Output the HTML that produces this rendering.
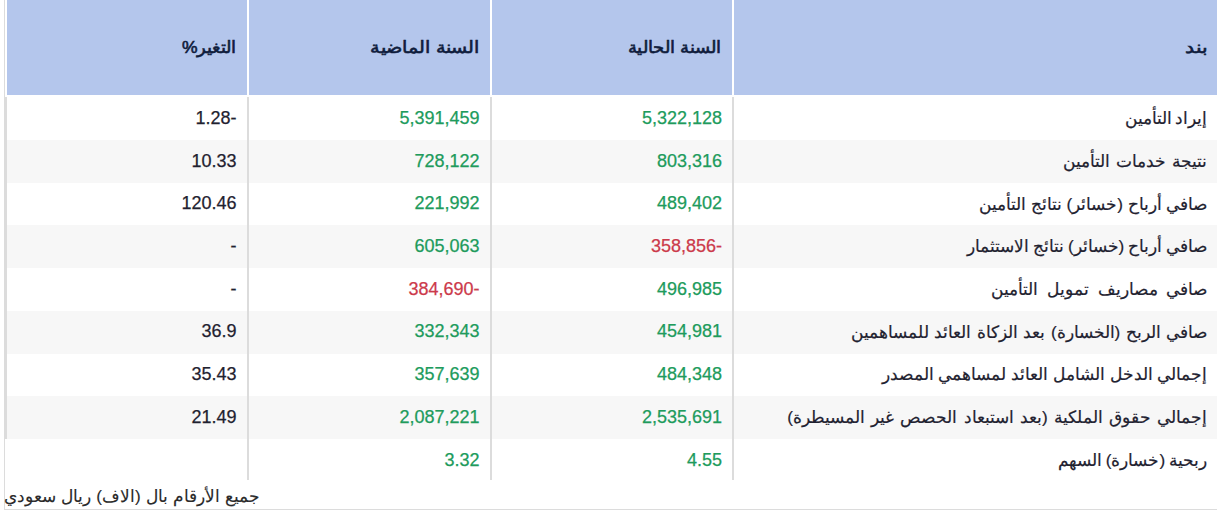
<!DOCTYPE html>
<html lang="ar" dir="rtl">
<head>
<meta charset="utf-8">
<title>جدول</title>
<style>
html,body{margin:0;padding:0;background:#fff;}
body{width:1217px;height:522px;overflow:hidden;position:relative;font-family:"Liberation Sans",sans-serif;color:#1f2230;}
.wrap{position:absolute;left:4px;top:0;width:1300px;height:509px;border-left:1px solid #dcdcdc;border-bottom:1px solid #dcdcdc;box-sizing:content-box;}
.th{position:absolute;top:0;height:95px;background:#b4c6ec;}
.row{position:absolute;left:5px;width:1220px;background:#f7f7f7;}
.vb{position:absolute;width:2px;background:#dcdcdc;}
.c{position:absolute;white-space:nowrap;direction:rtl;text-align:right;line-height:20px;height:20px;}
.h{font-weight:normal;color:#0f1c3c;font-size:16.5px;-webkit-text-stroke:0.6px currentColor;}
.t{font-size:17.2px;-webkit-text-stroke:0.2px currentColor;}
.n{font-size:18px;-webkit-text-stroke:0.25px currentColor;}
.g{color:#209b5c;}
.r{color:#cc3a4b;}
.k{color:#1f2230;}
.f{position:absolute;left:6px;white-space:nowrap;direction:rtl;font-size:17.2px;line-height:20px;color:#2a2a2a;-webkit-text-stroke:0.12px currentColor;}
</style>
</head>
<body>
<div class="wrap"></div>
<div class="th" style="left:7px;width:240px"></div>
<div class="th" style="left:249px;width:241px"></div>
<div class="th" style="left:492px;width:240px"></div>
<div class="th" style="left:734px;width:483px"></div>
<div class="row" style="top:140px;height:43px"></div>
<div class="row" style="top:225px;height:43px"></div>
<div class="row" style="top:311px;height:43px"></div>
<div class="row" style="top:396px;height:43px"></div>
<div class="vb" style="left:5px;top:97px;height:342px"></div>
<div class="vb" style="left:247px;top:97px;height:383px"></div>
<div class="vb" style="left:490px;top:97px;height:383px"></div>
<div class="vb" style="left:732px;top:97px;height:383px"></div>
<div class="c h" style="right:9.5px;top:36.98px;transform:scaleX(1.19);transform-origin:100% 50%">بند</div>
<div class="c h" style="right:495px;top:36.98px;transform:scaleX(1.06);transform-origin:100% 50%">السنة الحالية</div>
<div class="c h" style="right:737.5px;top:36.98px;transform:scaleX(1.13);transform-origin:100% 50%">السنة الماضية</div>
<div class="c h" style="right:980.5px;top:36.98px;transform:scaleX(1.06);transform-origin:100% 50%">التغير%</div>
<div class="c t" style="right:9.5px;top:108.14px;word-spacing:-1.5px">إيراد التأمين</div>
<div class="c n g" style="right:495px;top:107.86px">5,322,128</div>
<div class="c n g" style="right:737.5px;top:107.86px">5,391,459</div>
<div class="c n k" style="right:980.5px;top:107.86px">-1.28</div>
<div class="c t" style="right:9.5px;top:150.85px;word-spacing:1.35px">نتيجة خدمات التأمين</div>
<div class="c n g" style="right:495px;top:150.57px">803,316</div>
<div class="c n g" style="right:737.5px;top:150.57px">728,122</div>
<div class="c n k" style="right:980.5px;top:150.57px">10.33</div>
<div class="c t" style="right:9.5px;top:193.56px;word-spacing:0px">صافي أرباح (خسائر) نتائج التأمين</div>
<div class="c n g" style="right:495px;top:193.28px">489,402</div>
<div class="c n g" style="right:737.5px;top:193.28px">221,992</div>
<div class="c n k" style="right:980.5px;top:193.28px">120.46</div>
<div class="c t" style="right:9.5px;top:236.27px;word-spacing:-0.7px">صافي أرباح (خسائر) نتائج الاستثمار</div>
<div class="c n r" style="right:495px;top:235.99px">-358,856</div>
<div class="c n g" style="right:737.5px;top:235.99px">605,063</div>
<div class="c n k" style="right:980.5px;top:235.99px">-</div>
<div class="c t" style="right:9.5px;top:278.98px;word-spacing:4px">صافي مصاريف تمويل التأمين</div>
<div class="c n g" style="right:495px;top:278.70px">496,985</div>
<div class="c n r" style="right:737.5px;top:278.70px">-384,690</div>
<div class="c n k" style="right:980.5px;top:278.70px">-</div>
<div class="c t" style="right:9.5px;top:321.69px;word-spacing:0.8px">صافي الربح (الخسارة) بعد الزكاة العائد للمساهمين</div>
<div class="c n g" style="right:495px;top:321.41px">454,981</div>
<div class="c n g" style="right:737.5px;top:321.41px">332,343</div>
<div class="c n k" style="right:980.5px;top:321.41px">36.9</div>
<div class="c t" style="right:9.5px;top:364.40px;word-spacing:0px">إجمالي الدخل الشامل العائد لمساهمي المصدر</div>
<div class="c n g" style="right:495px;top:364.12px">484,348</div>
<div class="c n g" style="right:737.5px;top:364.12px">357,639</div>
<div class="c n k" style="right:980.5px;top:364.12px">35.43</div>
<div class="c t" style="right:9.5px;top:407.11px;word-spacing:1.5px">إجمالي حقوق الملكية (بعد استبعاد الحصص غير المسيطرة)</div>
<div class="c n g" style="right:495px;top:406.83px">2,535,691</div>
<div class="c n g" style="right:737.5px;top:406.83px">2,087,221</div>
<div class="c n k" style="right:980.5px;top:406.83px">21.49</div>
<div class="c t" style="right:9.5px;top:449.82px;word-spacing:-0.5px">ربحية (خسارة) السهم</div>
<div class="c n g" style="right:495px;top:449.54px">4.55</div>
<div class="c n g" style="right:737.5px;top:449.54px">3.32</div>
<div class="f" style="left:4px;top:486.44px;word-spacing:0.4px">جميع الأرقام بال (الاف) ريال سعودي</div>
</body>
</html>
